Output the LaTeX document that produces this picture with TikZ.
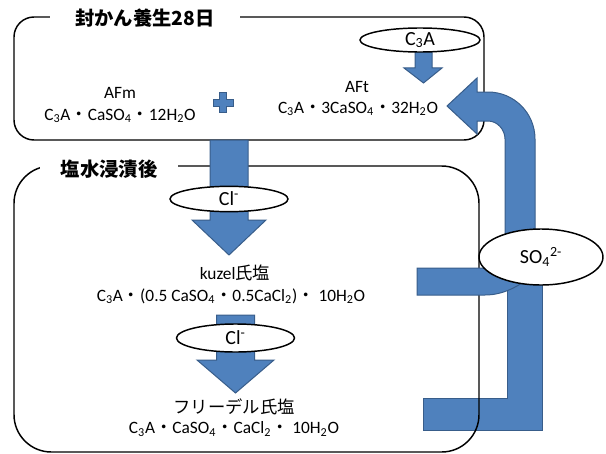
\documentclass[tikz,border=0pt]{standalone}
\usepackage{fontspec}
\setmainfont{Carlito}
\newfontfamily\jp{Noto Sans CJK JP}
\usetikzlibrary{shapes.geometric}
\definecolor{bluefill}{HTML}{4F81BD}
\definecolor{blueedge}{HTML}{385D8A}
\newcommand{\dotj}{{\jp ・}}
\begin{document}
\begin{tikzpicture}[x=0.75pt,y=-0.75pt,
  frame/.style={draw=black, line width=1.1pt},
  blockarrow/.style={fill=bluefill, draw=blueedge, line width=0.75pt, line join=miter},
  ion/.style={ellipse, draw=black, fill=white, line width=1.1pt, inner sep=0pt,
    font=\fontsize{15}{17}\selectfont},
  heading/.style={fill=white, inner sep=0pt, minimum height=15pt,
    font=\jp\bfseries\fontsize{14.5}{16}\selectfont},
  label/.style={inner sep=0pt, align=center, font=\fontsize{13}{15}\selectfont}]
\useasboundingbox (0,0) rectangle (606,453);

% lower L-shaped band (sulfate path), drawn beneath the stage frames
\draw[blockarrow] (507,272) -- (507,398) -- (423,398) -- (423,430)
  -- (542,430) -- (542,272) -- cycle;

% stage frames
\draw[frame, rounded corners=15pt] (14,17) rectangle (484,140);
\draw[frame, rounded corners=28pt] (14,166) rectangle (479,452);
\node[heading, minimum width=142.5pt] (t1) at (145,18) {封かん養生28日};
\node[heading, minimum width=103.5pt] (t2) at (109,169) {塩水浸漬後};

% upper band feeding into the sulfate ellipse
\draw[blockarrow] (417,268) -- (522,268) -- (522,283)
  .. controls (508,292) and (496,295) .. (485,295) -- (417,295) -- cycle;

% curved arrow returning sulfate to the AFt stage
\draw[blockarrow] (447,106) -- (477,78) -- (477,92) -- (488,92)
  .. controls (514,92) and (535,113) .. (535,139) -- (535,245) -- (505,245)
  -- (505,139) .. controls (505,129.6) and (497.4,121) .. (488,121)
  -- (477,121) -- (477,134) -- cycle;

% C3A -> AFt arrow
\draw[blockarrow] (415,50) -- (415,68) -- (404,68) -- (423.5,83) -- (442,68)
  -- (432,68) -- (432,50) -- cycle;

% stage 1 -> kuzel arrow
\draw[blockarrow] (210,140) -- (210,220) -- (192,220) -- (229,255) -- (266,220)
  -- (248,220) -- (248,140) -- cycle;

% kuzel -> Friedel arrow
\draw[blockarrow] (216.5,315) -- (216.5,360) -- (197,360) -- (235.5,393)
  -- (274,360) -- (254.5,360) -- (254.5,315) -- cycle;

% plus sign
\draw[blockarrow] (219.5,92.5) -- (226.5,92.5) -- (226.5,99) -- (233,99)
  -- (233,106) -- (226.5,106) -- (226.5,112) -- (219.5,112) -- (219.5,106)
  -- (213,106) -- (213,99) -- (219.5,99) -- cycle;

% ion ellipses
\node[ion, minimum width=90pt, minimum height=18pt] (c3a) at (420,40) {C\textsubscript{3}A};
\node[ion, minimum width=88.5pt, minimum height=19pt] (cl1) at (229,199) {Cl\textsuperscript{-}};
\node[ion, minimum width=88.5pt, minimum height=21pt] (cl2) at (235.5,338) {Cl\textsuperscript{-}};
\node[ion, minimum width=93pt, minimum height=42pt] (so4) at (541,257) {SO\textsubscript{4}\textsuperscript{2-}};

% phase names and formulas
\node[label] (afm) at (120,93) {AFm};
\node[label] (afmf) at (120,116) {C\textsubscript{3}A\dotj CaSO\textsubscript{4}\dotj 12H\textsubscript{2}O};
\node[label] (aft) at (357,87) {AFt};
\node[label] (aftf) at (358,109) {C\textsubscript{3}A\dotj 3CaSO\textsubscript{4}\dotj 32H\textsubscript{2}O};
\node[label] (kuz) at (235,273) {kuzel{\jp 氏塩}};
\node[label] (kuzf) at (231,296) {C\textsubscript{3}A\dotj (0.5 CaSO\textsubscript{4}\dotj 0.5CaCl\textsubscript{2})\dotj\ 10H\textsubscript{2}O};
\node[label] (fri) at (234,407) {\jp フリーデル氏塩};
\node[label] (frif) at (234,429) {C\textsubscript{3}A\dotj CaSO\textsubscript{4}\dotj CaCl\textsubscript{2}\dotj\ 10H\textsubscript{2}O};
\end{tikzpicture}
\end{document}
